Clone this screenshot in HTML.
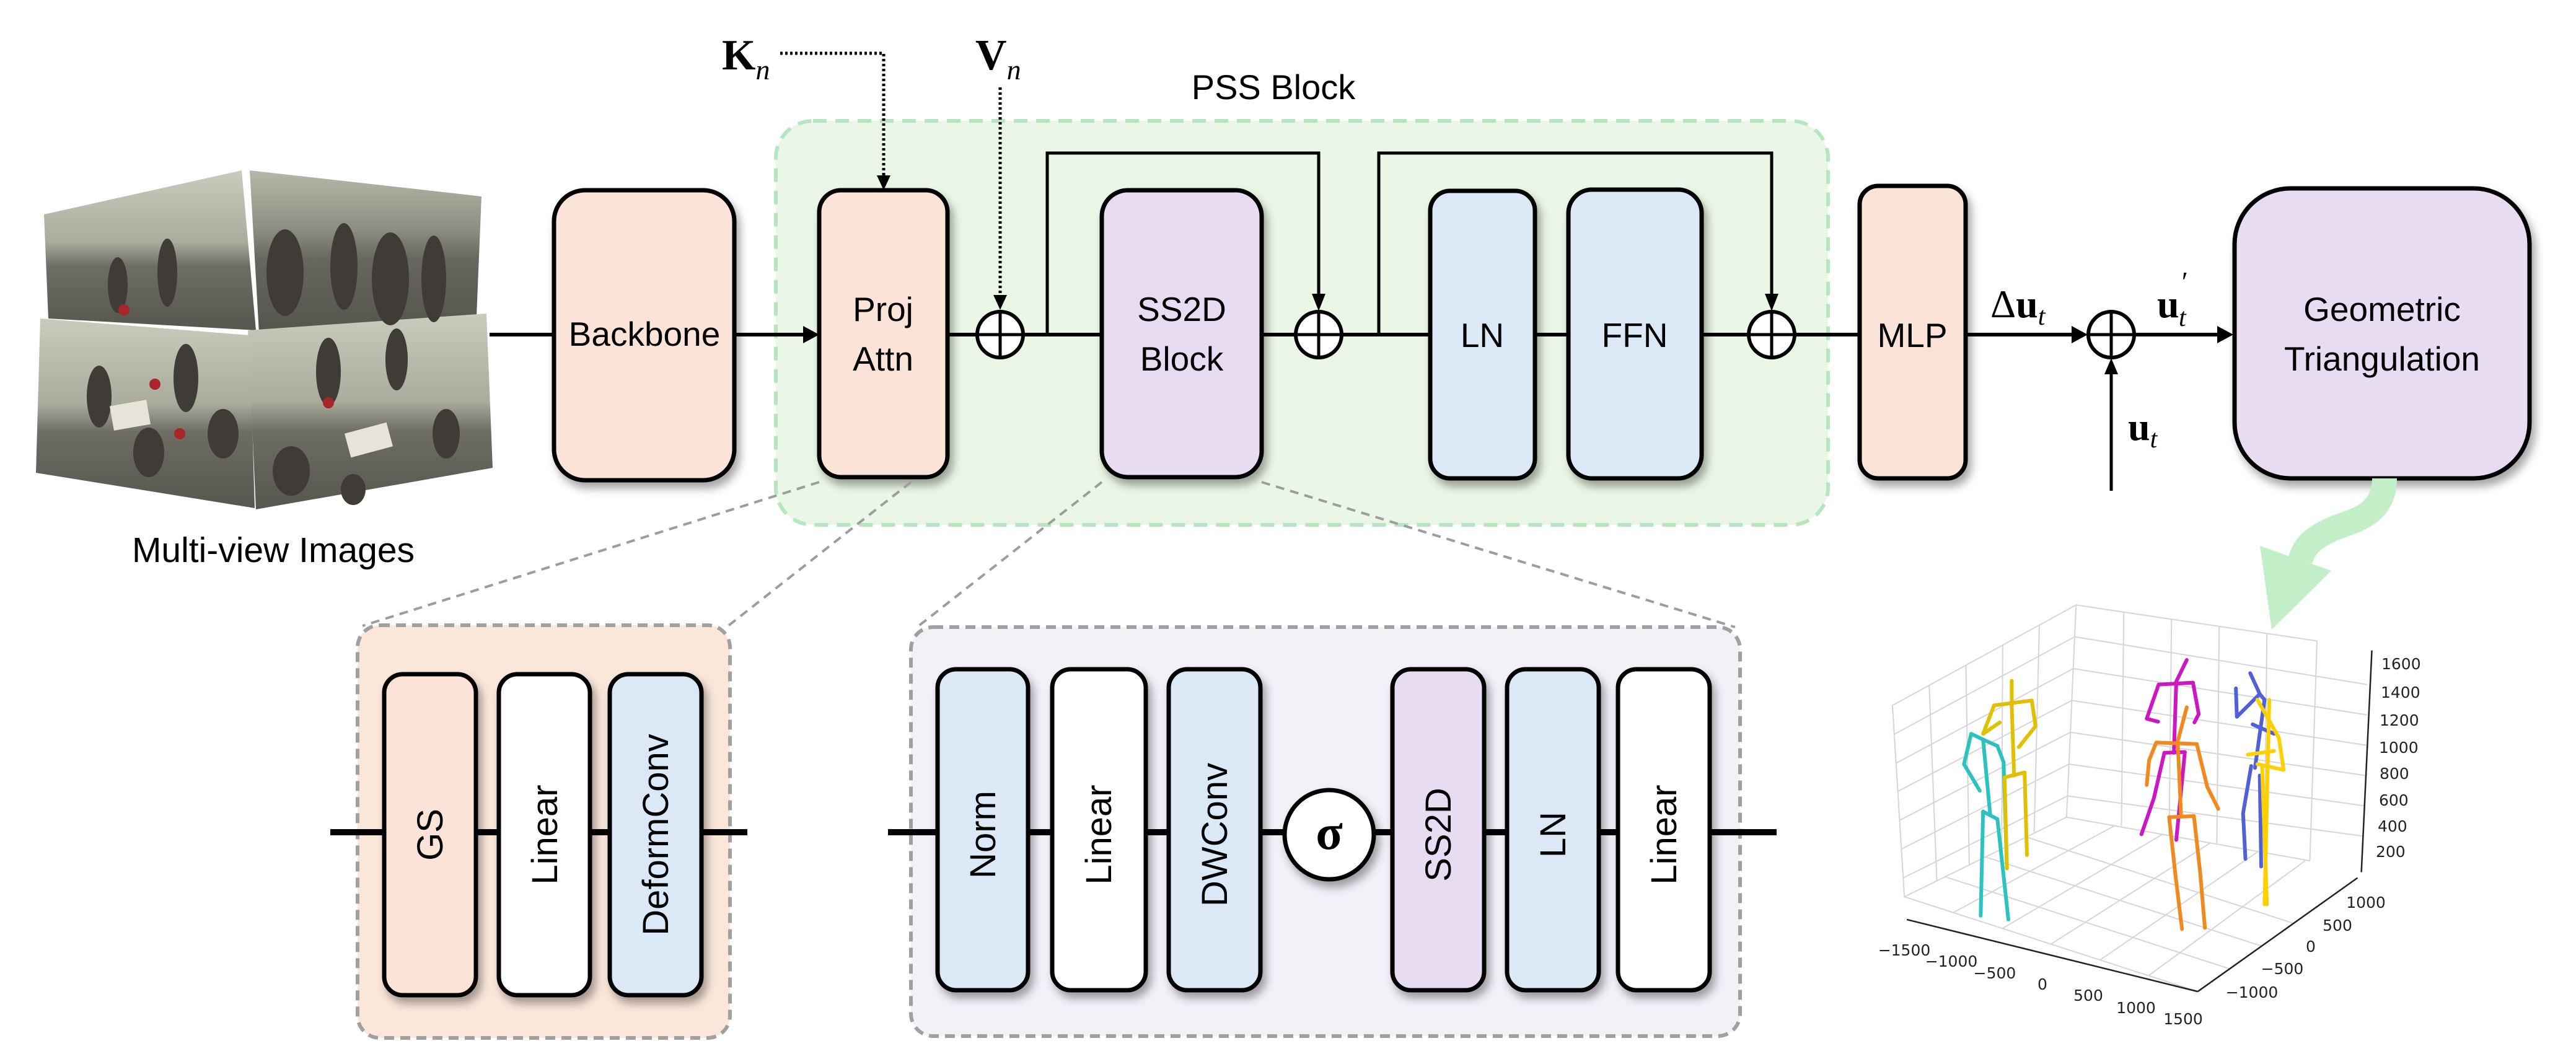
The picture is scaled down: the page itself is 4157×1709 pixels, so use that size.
<!DOCTYPE html>
<html><head><meta charset="utf-8"><style>
html,body{margin:0;padding:0;background:#fff;}
svg{display:block;}
.t{font-family:"Liberation Sans",sans-serif;fill:#000;}
.m{font-family:"Liberation Serif",serif;fill:#000;}
</style></head><body>
<svg width="4157" height="1709" viewBox="0 0 4157 1709" xmlns="http://www.w3.org/2000/svg">
<defs>
<filter id="sh" x="-20%" y="-20%" width="140%" height="140%"><feDropShadow dx="6" dy="10" stdDeviation="7" flood-color="#000" flood-opacity="0.35"/></filter>
<linearGradient id="pg" x1="0" y1="0" x2="0" y2="1"><stop offset="0" stop-color="#c9cbbd"/><stop offset="0.45" stop-color="#a9ab9c"/><stop offset="0.6" stop-color="#6e6d64"/><stop offset="1" stop-color="#57564f"/></linearGradient>
<linearGradient id="pg2" x1="0" y1="0" x2="0" y2="1"><stop offset="0" stop-color="#b5b7a8"/><stop offset="0.35" stop-color="#8f9083"/><stop offset="0.55" stop-color="#67665e"/><stop offset="1" stop-color="#55544d"/></linearGradient>
</defs>

<rect x="1252" y="195" width="1698" height="652" rx="60" fill="#ebf7e6" stroke="#b6e6bd" stroke-width="6" stroke-dasharray="22 14"/>
<text class="t" x="2055" y="160" font-size="56" text-anchor="middle">PSS Block</text>

<polygon points="71,346 390,275 413,533 78,514" fill="url(#pg)"/>
<polygon points="403,275 777,317 769,510 418,537" fill="url(#pg2)"/>
<polygon points="65,514 403,541 411,820 58,763" fill="url(#pg)"/>
<polygon points="400,533 785,506 795,755 413,822" fill="url(#pg)"/>
<g fill="#3f3c38">
<ellipse cx="190" cy="460" rx="16" ry="45"/><ellipse cx="270" cy="440" rx="16" ry="55"/><ellipse cx="460" cy="440" rx="30" ry="70"/><ellipse cx="555" cy="430" rx="22" ry="70"/><ellipse cx="630" cy="450" rx="30" ry="75"/><ellipse cx="700" cy="450" rx="20" ry="70"/>
<ellipse cx="160" cy="640" rx="20" ry="50"/><ellipse cx="300" cy="610" rx="20" ry="55"/><ellipse cx="240" cy="730" rx="25" ry="40"/><ellipse cx="360" cy="700" rx="25" ry="40"/>
<ellipse cx="530" cy="600" rx="20" ry="55"/><ellipse cx="640" cy="580" rx="18" ry="50"/><ellipse cx="720" cy="700" rx="22" ry="40"/><ellipse cx="470" cy="760" rx="30" ry="40"/><ellipse cx="570" cy="790" rx="20" ry="25"/>
</g>
<g fill="#a8252a"><circle cx="200" cy="500" r="9"/><circle cx="290" cy="700" r="9"/><circle cx="600" cy="700" r="9"/><circle cx="530" cy="650" r="9"/><circle cx="250" cy="620" r="9"/></g>
<g fill="#e8e3d8"><rect x="180" y="650" width="60" height="40" transform="rotate(-10 210 670)"/><rect x="560" y="690" width="70" height="40" transform="rotate(-15 595 710)"/></g>
<text class="t" x="441" y="907" font-size="57" text-anchor="middle">Multi-view Images</text>

<g stroke="#000" stroke-width="6" fill="none">
<line x1="790" y1="540" x2="900" y2="540"/>
<line x1="1185" y1="540" x2="1300" y2="540"/>
<line x1="1529" y1="540" x2="1576" y2="540"/>
<line x1="1652" y1="540" x2="1778" y2="540"/>
<line x1="2036" y1="540" x2="2090" y2="540"/>
<line x1="2166" y1="540" x2="2308" y2="540"/>
<line x1="2477" y1="540" x2="2531" y2="540"/>
<line x1="2746" y1="540" x2="2821" y2="540"/>
<line x1="2897" y1="540" x2="3001" y2="540"/>
<line x1="3172" y1="540" x2="3350" y2="540"/>
<line x1="3445" y1="540" x2="3580" y2="540"/>
</g>
<g stroke="#000" stroke-width="5" fill="none">
<polyline points="1690,540 1690,247 2128,247 2128,480"/>
<polyline points="2225,540 2225,247 2859,247 2859,480"/>
<line x1="3407" y1="792" x2="3407" y2="600"/>
</g>
<g fill="#000">
<polygon points="1322,540 1296,526 1296,554"/>
<polygon points="2128,502 2117,474 2139,474"/>
<polygon points="2859,502 2848,474 2870,474"/>
<polygon points="3369,540 3343,526 3343,554"/>
<polygon points="3604,540 3578,526 3578,554"/>
<polygon points="3407,578 3396,604 3418,604"/>
<polygon points="1426,307 1415,283 1437,283"/>
<polygon points="1614,500 1603,476 1625,476"/>
</g>
<g stroke="#000" stroke-width="5" fill="none" stroke-dasharray="4 4">
<polyline points="1259,86 1426,86 1426,290"/>
<line x1="1614" y1="141" x2="1614" y2="482"/>
</g>
<text class="m" x="1165" y="112" font-size="70" font-weight="bold">K<tspan font-size="46" font-style="italic" font-weight="normal" dy="16">n</tspan></text>
<text class="m" x="1574" y="112" font-size="70" font-weight="bold">V<tspan font-size="46" font-style="italic" font-weight="normal" dy="16">n</tspan></text>

<g stroke="#000" stroke-width="6" fill="#fff">
<circle cx="1614" cy="540" r="37"/><circle cx="2128" cy="540" r="37"/><circle cx="2859" cy="540" r="37"/><circle cx="3407" cy="540" r="37"/>
</g>
<g stroke="#000" stroke-width="5">
<line x1="1577" y1="540" x2="1651" y2="540"/><line x1="1614" y1="503" x2="1614" y2="577"/>
<line x1="2091" y1="540" x2="2165" y2="540"/><line x1="2128" y1="503" x2="2128" y2="577"/>
<line x1="2822" y1="540" x2="2896" y2="540"/><line x1="2859" y1="503" x2="2859" y2="577"/>
<line x1="3370" y1="540" x2="3444" y2="540"/><line x1="3407" y1="503" x2="3407" y2="577"/>
</g>

<g stroke="#000" stroke-width="7" filter="url(#sh)">
<rect x="894" y="307" width="291" height="468" rx="50" fill="#fbe4d7"/>
<rect x="1322" y="307" width="207" height="463" rx="35" fill="#fbe4d7"/>
<rect x="1778" y="307" width="258" height="463" rx="42" fill="#e8dcf2"/>
<rect x="2308" y="308" width="169" height="464" rx="32" fill="#dbe8f5"/>
<rect x="2531" y="306" width="215" height="466" rx="38" fill="#dbe8f5"/>
<rect x="3001" y="300" width="171" height="472" rx="30" fill="#fbe4d7"/>
<rect x="3606" y="304" width="476" height="468" rx="90" fill="#e8dcf2"/>
</g>
<g class="t" font-size="55" text-anchor="middle">
<text x="1040" y="558">Backbone</text>
<text x="1425" y="518">Proj</text><text x="1425" y="598">Attn</text>
<text x="1907" y="518">SS2D</text><text x="1907" y="598">Block</text>
<text x="2392" y="560">LN</text>
<text x="2638" y="560">FFN</text>
<text x="3086" y="560">MLP</text>
<text x="3844" y="518">Geometric</text><text x="3844" y="598">Triangulation</text>
</g>
<text class="m" x="3212" y="512" font-size="64">Δ<tspan font-weight="bold">u</tspan><tspan font-size="42" font-style="italic" dy="12">t</tspan></text>
<text class="m" x="3481" y="512" font-size="64" font-weight="bold">u</text>
<text class="m" x="3518" y="470" font-size="46" font-style="italic">′</text>
<text class="m" x="3516" y="526" font-size="42" font-style="italic">t</text>
<text class="m" x="3434" y="710" font-size="64" font-weight="bold">u<tspan font-size="42" font-style="italic" font-weight="normal" dy="12">t</tspan></text>

<g stroke="#9d9d9d" stroke-width="4" stroke-dasharray="14 10" fill="none">
<line x1="1322" y1="778" x2="585" y2="1010"/>
<line x1="1470" y1="778" x2="1175" y2="1010"/>
<line x1="1778" y1="778" x2="1480" y2="1012"/>
<line x1="2036" y1="778" x2="2800" y2="1012"/>
</g>

<rect x="577" y="1009" width="601" height="666" rx="36" fill="#fbe6da" stroke="#a0a0a0" stroke-width="6" stroke-dasharray="16 10"/>
<line x1="533" y1="1343" x2="1206" y2="1343" stroke="#000" stroke-width="10"/>
<g stroke="#000" stroke-width="7" filter="url(#sh)">
<rect x="620" y="1088" width="148" height="518" rx="30" fill="#fbe4d7"/>
<rect x="805" y="1088" width="147" height="518" rx="30" fill="#fff"/>
<rect x="984" y="1088" width="148" height="518" rx="30" fill="#dbe8f5"/>
</g>
<rect x="1470" y="1012" width="1338" height="660" rx="36" fill="#f3f0f8" stroke="#a0a0a0" stroke-width="6" stroke-dasharray="16 10"/>
<line x1="1433" y1="1343" x2="2867" y2="1343" stroke="#000" stroke-width="10"/>
<g stroke="#000" stroke-width="7" filter="url(#sh)">
<rect x="1513" y="1080" width="146" height="518" rx="30" fill="#dbe8f5"/>
<rect x="1698" y="1080" width="151" height="518" rx="30" fill="#fff"/>
<rect x="1886" y="1080" width="148" height="518" rx="30" fill="#dbe8f5"/>
<circle cx="2145" cy="1347" r="72" fill="#fff"/>
<rect x="2247" y="1080" width="148" height="518" rx="30" fill="#e8dcf2"/>
<rect x="2432" y="1080" width="148" height="518" rx="30" fill="#dbe8f5"/>
<rect x="2611" y="1080" width="148" height="518" rx="30" fill="#fff"/>
</g>
<text class="m" x="2145" y="1370" font-size="80" font-weight="bold" text-anchor="middle">σ</text>
<g class="t" font-size="58" text-anchor="middle">
<text transform="translate(714,1347) rotate(-90)">GS</text>
<text transform="translate(899,1347) rotate(-90)">Linear</text>
<text transform="translate(1078,1347) rotate(-90)">DeformConv</text>
<text transform="translate(1606,1347) rotate(-90)">Norm</text>
<text transform="translate(1793,1347) rotate(-90)">Linear</text>
<text transform="translate(1980,1347) rotate(-90)">DWConv</text>
<text transform="translate(2341,1347) rotate(-90)">SS2D</text>
<text transform="translate(2526,1347) rotate(-90)">LN</text>
<text transform="translate(2705,1347) rotate(-90)">Linear</text>
</g>

<path d="M3848,772 C3848,830 3800,840 3768,852 C3735,866 3718,880 3712,905" stroke="#c2eec8" stroke-width="40" fill="none"/>
<polygon points="3647,881 3762,921 3666,1016" fill="#c2eec8"/>

<g transform="translate(2950,750) scale(0.7698,0.6116)">
<g stroke="#d6d6d6" stroke-width="2" fill="none">
<polygon points="135,635 520,370 500,930 160,1140" vector-effect="non-scaling-stroke"/>
<polyline points="520,370 1025,465" vector-effect="non-scaling-stroke"/>
<polyline points="500,930 1010,1045" vector-effect="non-scaling-stroke"/>
<line x1="212" y1="582" x2="228" y2="1098" vector-effect="non-scaling-stroke"/>
<line x1="289" y1="529" x2="296" y2="1056" vector-effect="non-scaling-stroke"/>
<line x1="366" y1="476" x2="364" y2="1014" vector-effect="non-scaling-stroke"/>
<line x1="443" y1="423" x2="432" y2="972" vector-effect="non-scaling-stroke"/>
<line x1="139" y1="711" x2="517" y2="454" vector-effect="non-scaling-stroke"/>
<line x1="143" y1="787" x2="514" y2="538" vector-effect="non-scaling-stroke"/>
<line x1="146" y1="862" x2="511" y2="622" vector-effect="non-scaling-stroke"/>
<line x1="150" y1="938" x2="508" y2="706" vector-effect="non-scaling-stroke"/>
<line x1="154" y1="1014" x2="505" y2="790" vector-effect="non-scaling-stroke"/>
<line x1="158" y1="1090" x2="502" y2="874" vector-effect="non-scaling-stroke"/>
<line x1="620" y1="389" x2="615" y2="953" vector-effect="non-scaling-stroke"/>
<line x1="720" y1="408" x2="715" y2="976" vector-effect="non-scaling-stroke"/>
<line x1="820" y1="427" x2="815" y2="999" vector-effect="non-scaling-stroke"/>
<line x1="920" y1="446" x2="915" y2="1022" vector-effect="non-scaling-stroke"/>
<line x1="1025" y1="465" x2="1010" y2="1045" vector-effect="non-scaling-stroke"/>
<line x1="517" y1="454" x2="1130" y2="580" vector-effect="non-scaling-stroke"/>
<line x1="514" y1="538" x2="1130" y2="660" vector-effect="non-scaling-stroke"/>
<line x1="511" y1="622" x2="1128" y2="740" vector-effect="non-scaling-stroke"/>
<line x1="508" y1="706" x2="1126" y2="820" vector-effect="non-scaling-stroke"/>
<line x1="505" y1="790" x2="1124" y2="900" vector-effect="non-scaling-stroke"/>
<line x1="502" y1="874" x2="1122" y2="980" vector-effect="non-scaling-stroke"/>
<line x1="160" y1="1140" x2="775" y2="1390" vector-effect="non-scaling-stroke"/>
<line x1="245" y1="1087" x2="842" y2="1330" vector-effect="non-scaling-stroke"/>
<line x1="330" y1="1035" x2="909" y2="1270" vector-effect="non-scaling-stroke"/>
<line x1="415" y1="982" x2="976" y2="1210" vector-effect="non-scaling-stroke"/>
<line x1="262" y1="1182" x2="600" y2="953" vector-effect="non-scaling-stroke"/>
<line x1="365" y1="1224" x2="700" y2="976" vector-effect="non-scaling-stroke"/>
<line x1="467" y1="1265" x2="800" y2="999" vector-effect="non-scaling-stroke"/>
<line x1="570" y1="1307" x2="900" y2="1022" vector-effect="non-scaling-stroke"/>
<line x1="672" y1="1348" x2="1000" y2="1045" vector-effect="non-scaling-stroke"/>
</g>
<g stroke="#222" stroke-width="2.5" fill="none">
<line x1="165" y1="1200" x2="775" y2="1390" vector-effect="non-scaling-stroke"/>
<line x1="775" y1="1390" x2="1110" y2="1090" vector-effect="non-scaling-stroke"/>
<line x1="1140" y1="490" x2="1118" y2="1075" vector-effect="non-scaling-stroke"/>
</g>
<g fill="none" stroke-width="6" stroke-linejoin="round" stroke-linecap="round">
<g stroke="#2cc2c2">
<polyline points="300,710 325,725 355,742" vector-effect="non-scaling-stroke"/>
<polyline points="325,725 340,925" vector-effect="non-scaling-stroke"/>
<polyline points="325,915 355,935" vector-effect="non-scaling-stroke"/>
<polyline points="325,915 320,1190" vector-effect="non-scaling-stroke"/>
<polyline points="355,935 378,1200" vector-effect="non-scaling-stroke"/>
<polyline points="300,710 285,790 318,860" vector-effect="non-scaling-stroke"/>
<polyline points="355,742 368,785 375,1065" vector-effect="non-scaling-stroke"/>
</g>
<g stroke="#e0c000">
<polyline points="385,570 385,635" vector-effect="non-scaling-stroke"/>
<polyline points="348,635 427,622" vector-effect="non-scaling-stroke"/>
<polyline points="385,635 390,820" vector-effect="non-scaling-stroke"/>
<polyline points="370,825 412,812" vector-effect="non-scaling-stroke"/>
<polyline points="370,825 375,1065" vector-effect="non-scaling-stroke"/>
<polyline points="412,812 417,1030" vector-effect="non-scaling-stroke"/>
<polyline points="348,635 325,710 360,680" vector-effect="non-scaling-stroke"/>
<polyline points="427,622 435,690 400,745" vector-effect="non-scaling-stroke"/>
</g>
<g stroke="#cc18c0">
<polyline points="752,515 730,572" vector-effect="non-scaling-stroke"/>
<polyline points="693,580 765,575" vector-effect="non-scaling-stroke"/>
<polyline points="730,572 725,760" vector-effect="non-scaling-stroke"/>
<polyline points="705,760 748,758" vector-effect="non-scaling-stroke"/>
<polyline points="705,760 683,880 657,975" vector-effect="non-scaling-stroke"/>
<polyline points="748,758 730,990" vector-effect="non-scaling-stroke"/>
<polyline points="693,580 668,670 692,678" vector-effect="non-scaling-stroke"/>
<polyline points="765,575 777,658 768,680" vector-effect="non-scaling-stroke"/>
</g>
<g stroke="#f08a20">
<polyline points="752,640 733,730" vector-effect="non-scaling-stroke"/>
<polyline points="688,733 773,737" vector-effect="non-scaling-stroke"/>
<polyline points="733,730 740,925" vector-effect="non-scaling-stroke"/>
<polyline points="715,930 767,927" vector-effect="non-scaling-stroke"/>
<polyline points="715,930 728,1080 742,1225" vector-effect="non-scaling-stroke"/>
<polyline points="767,927 780,1075 790,1222" vector-effect="non-scaling-stroke"/>
<polyline points="688,733 673,780 668,845" vector-effect="non-scaling-stroke"/>
<polyline points="773,737 795,850 818,908" vector-effect="non-scaling-stroke"/>
</g>
<g stroke="#5060d8">
<polyline points="885,550 905,605 915,620" vector-effect="non-scaling-stroke"/>
<polyline points="855,590 857,665 905,605" vector-effect="non-scaling-stroke"/>
<polyline points="915,620 895,800" vector-effect="non-scaling-stroke"/>
<polyline points="887,795 870,920 875,1040" vector-effect="non-scaling-stroke"/>
<polyline points="905,820 908,1060" vector-effect="non-scaling-stroke"/>
<polyline points="890,685 935,710" vector-effect="non-scaling-stroke"/>
</g>
<g stroke="#ffd000">
<polyline points="900,620 945,720 955,805 900,790" vector-effect="non-scaling-stroke"/>
<polyline points="925,620 915,1160" vector-effect="non-scaling-stroke"/>
<polyline points="880,765 935,755" vector-effect="non-scaling-stroke"/>
<polyline points="910,800 920,1160" vector-effect="non-scaling-stroke"/>
</g>
</g>
</g>
<g font-family="DejaVu Sans,sans-serif" font-size="25" fill="#222">
<text x="3843" y="1080">1600</text><text x="3842" y="1126">1400</text><text x="3840" y="1171">1200</text><text x="3839" y="1215">1000</text><text x="3840" y="1257">800</text><text x="3839" y="1300">600</text><text x="3837" y="1342">400</text><text x="3834" y="1383">200</text>
</g>
<g font-family="DejaVu Sans,sans-serif" font-size="25" fill="#222" text-anchor="middle">
<text x="3073" y="1542">−1500</text><text x="3149" y="1560">−1000</text><text x="3219" y="1579">−500</text><text x="3296" y="1597">0</text><text x="3370" y="1615">500</text><text x="3447" y="1635">1000</text><text x="3523" y="1653">1500</text>
<text x="3818" y="1465">1000</text><text x="3772" y="1502">500</text><text x="3729" y="1536">0</text><text x="3683" y="1572">−500</text><text x="3634" y="1610">−1000</text>
</g>
</svg>
</body></html>
